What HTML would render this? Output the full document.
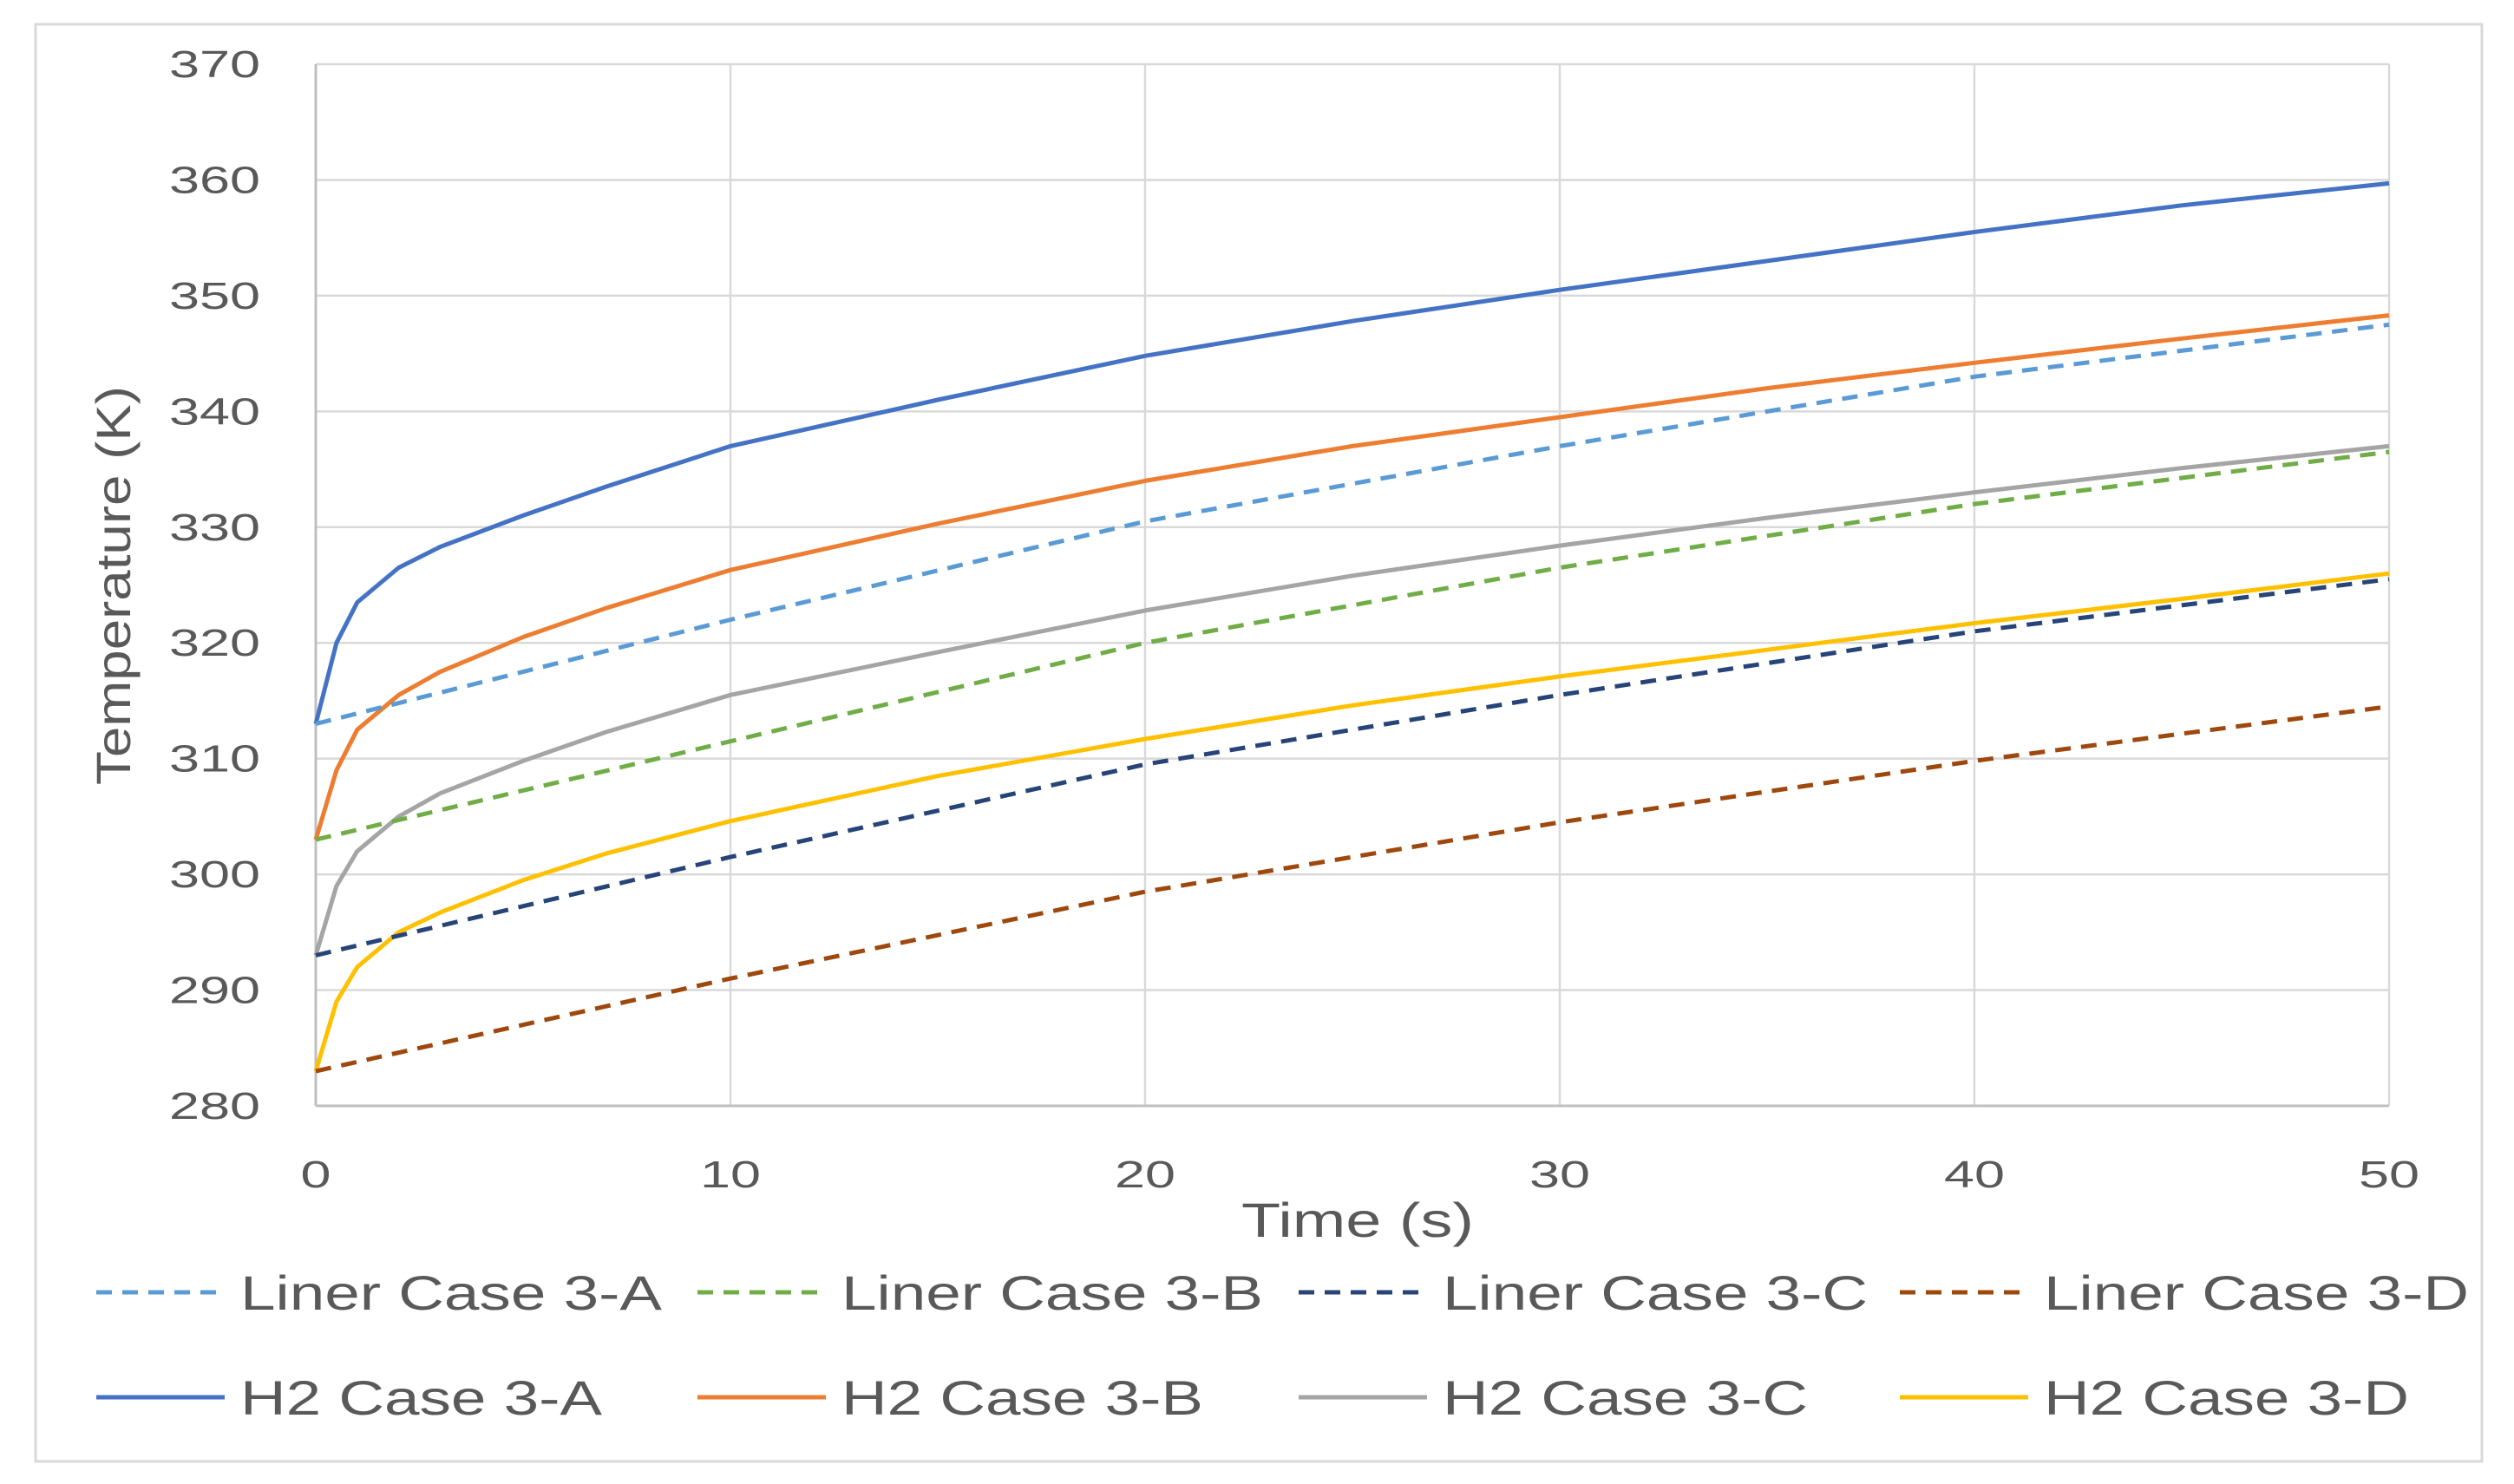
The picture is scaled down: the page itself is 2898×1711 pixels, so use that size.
<!DOCTYPE html>
<html><head><meta charset="utf-8"><style>
html,body{margin:0;padding:0;background:#fff;}
svg{display:block;font-family:"Liberation Sans",sans-serif;}
</style></head><body>
<svg id="chart" width="2898" height="1711" viewBox="0 0 2898 1711">
<rect x="41" y="28" width="2820" height="1657" fill="#fff" stroke="#d9d9d9" stroke-width="3"/>
<g id="grid"></g>
<g id="yticks"></g>
<g id="xticks"></g>
<g id="series"></g>
<text x="1565" y="1426" font-size="56" fill="#595959" text-anchor="middle" textLength="268" lengthAdjust="spacingAndGlyphs">Time (s)</text>
<text transform="translate(150,675) rotate(-90)" font-size="56" fill="#595959" text-anchor="middle" textLength="460" lengthAdjust="spacingAndGlyphs">Temperature (K)</text>
<g id="legend"></g>
</svg>
<script>
const xTicks=[0,10,20,30,40,50];
const yTicks=[280,290,300,310,320,330,340,350,360,370];
const tVals=[0,0.5,1,2,3,5,7,10,15,20,25,30,35,40,45,50];
const linerT=[0,10,20,30,40,50];
const linerA=[313,322,330.5,337,343,347.5];
const linerB=[303,311.5,320,326.5,332,336.5];
const linerC=[293,301.5,309.5,315.5,321,325.5];
const linerD=[283,291,298.5,304.5,309.8,314.5];
const h2A=[313,320,323.5,326.5,328.3,331,333.5,337,341,344.8,347.8,350.5,353,355.5,357.8,359.7];
const h2B=[303,309,312.5,315.5,317.5,320.5,323,326.3,330.3,334,337,339.5,342,344.2,346.3,348.3];
const h2C=[293,299,302,305,307,309.8,312.3,315.5,319.2,322.8,325.8,328.4,330.8,333,335.1,337];
const h2D=[283,289,292,295,296.7,299.5,301.8,304.6,308.5,311.7,314.6,317.1,319.4,321.7,323.8,326];
const names=["Liner Case 3-A","Liner Case 3-B","Liner Case 3-C","Liner Case 3-D","H2 Case 3-A","H2 Case 3-B","H2 Case 3-C","H2 Case 3-D"];
const NS="http://www.w3.org/2000/svg";
const L=364,R=2754,T=74,B=1275;
const xs=v=>L+(v-0)/(50-0)*(R-L);
const ys=v=>B-(v-280)/(370-280)*(B-T);
function mk(tag,attrs,parent){const e=document.createElementNS(NS,tag);for(const k in attrs)e.setAttribute(k,attrs[k]);parent.appendChild(e);return e;}
const grid=document.getElementById('grid'),yt=document.getElementById('yticks'),xt=document.getElementById('xticks');
yTicks.forEach(v=>{
  const l=mk('line',{x1:L,x2:R,y1:ys(v),y2:ys(v),stroke:'#d9d9d9','stroke-width':2.5},grid);
  
  
  const s=String(v);
  const t=mk('text',{x:300,y:ys(v)+15,'font-size':44,fill:'#595959','text-anchor':'end',textLength:s.length*35,lengthAdjust:'spacingAndGlyphs'},yt);
  t.textContent=s;
  
  
});
xTicks.forEach(v=>{
  const l=mk('line',{x1:xs(v),x2:xs(v),y1:T,y2:B,stroke:'#d9d9d9','stroke-width':2.5},grid);
  
  
  const s=String(v);
  const t=mk('text',{x:xs(v),y:1369,'font-size':44,fill:'#595959','text-anchor':'middle',textLength:s.length*35,lengthAdjust:'spacingAndGlyphs'},xt);
  t.textContent=s;
  
  
});
const axl=mk('line',{x1:L,x2:L,y1:T,y2:B,stroke:'#bfbfbf','stroke-width':3},grid);


const axb=mk('line',{x1:L,x2:R,y1:B,y2:B,stroke:'#bfbfbf','stroke-width':3},grid);


const seriesDefs=[
 {t:linerT,v:linerA,c:'#5B9BD5',d:true,n:'liner-case-3a'},
 {t:linerT,v:linerB,c:'#70AD47',d:true,n:'liner-case-3b'},
 {t:linerT,v:linerC,c:'#264478',d:true,n:'liner-case-3c'},
 {t:linerT,v:linerD,c:'#9E480E',d:true,n:'liner-case-3d'},
 {t:tVals,v:h2A,c:'#4472C4',d:false,n:'h2-case-3a'},
 {t:tVals,v:h2B,c:'#ED7D31',d:false,n:'h2-case-3b'},
 {t:tVals,v:h2C,c:'#A5A5A5',d:false,n:'h2-case-3c'},
 {t:tVals,v:h2D,c:'#FFC000',d:false,n:'h2-case-3d'}];
const sg=document.getElementById('series');
const order=[4,5,6,7,0,1,2,3];
order.forEach(i=>{const s=seriesDefs[i];
  const pts=s.t.map((tv,j)=>xs(tv).toFixed(1)+','+ys(s.v[j]).toFixed(1)).join(' ');
  const a={points:pts,fill:'none',stroke:s.c,'stroke-width':5,'stroke-linejoin':'round'};
  if(s.d)a['stroke-dasharray']='18 12';
  const p=mk('polyline',a,sg);
  
  
});
const lg=document.getElementById('legend');
const colX=[111,804,1497,2190],rowY=[1490,1611];
seriesDefs.forEach((s,i)=>{
  const x=colX[i%4],y=rowY[Math.floor(i/4)];
  const g=mk('g',{},lg);
  
  
  const a={x1:x,x2:x+148,y1:y,y2:y,stroke:s.c,'stroke-width':5};
  if(s.d)a['stroke-dasharray']='18 12';
  mk('line',a,g);
  const t=mk('text',{x:x+166,y:y+20,'font-size':56,fill:'#595959'},g);
  t.textContent=names[i];
  const w=t.getComputedTextLength();
  t.setAttribute('textLength',(w*1.3).toFixed(0));
  t.setAttribute('lengthAdjust','spacingAndGlyphs');
});
</script>
</body></html>
